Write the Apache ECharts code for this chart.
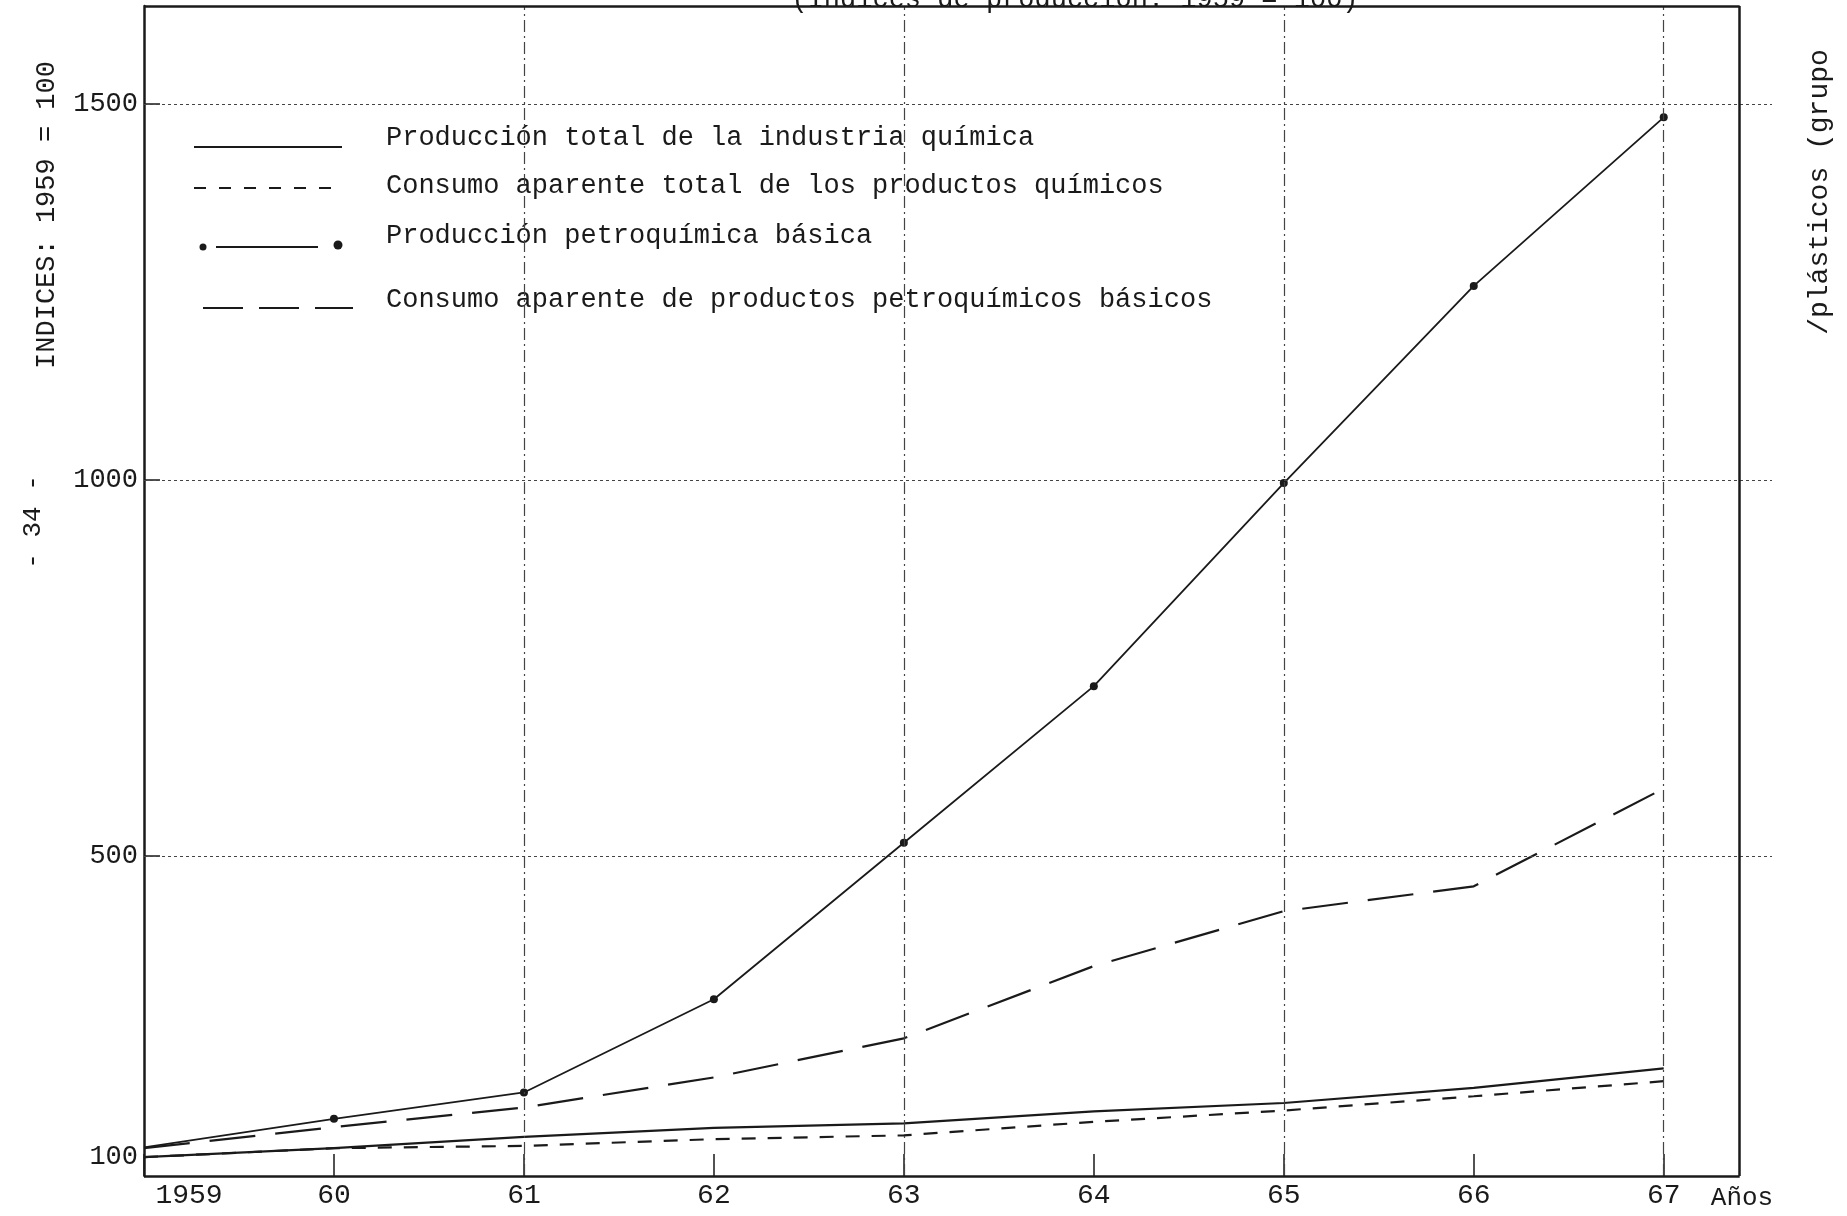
<!DOCTYPE html>
<html>
<head>
<meta charset="utf-8">
<script src="https://cdn.jsdelivr.net/npm/echarts@6/dist/echarts.min.js"></script>
<style>html,body{margin:0;padding:0;background:#fff}#c{width:1847px;height:1216px}</style>
</head>
<body>
<div id="c"></div>
<script>
const years = [1959, 1960, 1961, 1962, 1963, 1964, 1965, 1966, 1967];
const seriesNames = [
  'Producción total de la industria química',
  'Consumo aparente total de los productos químicos',
  'Producción petroquímica básica',
  'Consumo aparente de productos petroquímicos básicos'
];
const prodTotal = [100, 112, 127, 139, 145, 161, 172, 192, 218];
const consTotal = [100, 112, 115, 124, 129, 147, 162, 181, 201];
const prodPetro = [113, 151, 186, 310, 518, 726, 996, 1258, 1482];
const consPetro = [112, 140, 166, 206, 258, 354, 427, 460, 590];
const yLabelValues = [100, 500, 1000, 1500];
const yGridValues = [500, 1000, 1500];
const xGridYears = [1961, 1963, 1965, 1967];
const titleText = '(Indices de producción: 1959 = 100)';
const yName = 'INDICES: 1959 = 100';
const xName = 'Años';
const sideNote = '/plásticos (grupo';
const pageNo = '- 34 -';

const Y_MIN = 75, Y_MAX = 1630, X_MIN = 1959, X_END = 1967.4, X_MAX = 1967.57;
const FONT = '"Liberation Mono", "DejaVu Sans Mono", monospace';
const INK = '#1a1a1a';

const pairs = a => years.map((y, i) => [y, a[i]]);
const petroPoints = years.map((y, i) => (i === 0 ? {value: [y, prodPetro[i]], symbol: 'none'} : {value: [y, prodPetro[i]]}));

const gridLines = yGridValues.map(v => [{coord: [X_MIN, v]}, {coord: [X_MAX, v]}]);
const vLines = xGridYears.map(x => [{coord: [x, Y_MIN]}, {coord: [x, Y_MAX]}]);
const boxLines = [
  [{coord: [X_MIN, Y_MIN]}, {coord: [X_END, Y_MIN]}],
  [{coord: [X_END, Y_MIN]}, {coord: [X_END, Y_MAX]}],
  [{coord: [X_MIN, Y_MAX]}, {coord: [X_END, Y_MAX]}]
];
const ml = (data, style) => ({
  silent: true, symbol: ['none', 'none'], label: {show: false},
  lineStyle: style, emphasis: {disabled: true}, animation: false, data: data
});

const chart = echarts.init(document.getElementById('c'), null, {renderer: 'canvas'});
chart.setOption({
  animation: false,
  backgroundColor: '#ffffff',
  grid: {left: 144, top: 6, right: 75, bottom: 40, containLabel: false},
  xAxis: {
    type: 'value', min: X_MIN, max: X_MAX, interval: 1,
    axisLine: {show: false},
    splitLine: {show: false},
    axisTick: {show: true, inside: true, length: 22, customValues: years, lineStyle: {color: INK, width: 1.5}},
    axisLabel: {
      margin: 6, color: INK, fontFamily: FONT, fontSize: 28, customValues: years,
      formatter: v => (v === 1959 ? '{a|1959}' : String(v).slice(2)),
      rich: {a: {fontFamily: FONT, fontSize: 28, color: INK, padding: [0, 0, 0, 90]}}
    }
  },
  yAxis: {
    type: 'value', min: Y_MIN, max: Y_MAX,
    axisLine: {show: true, lineStyle: {color: INK, width: 2.5}},
    splitLine: {show: false},
    axisTick: {show: true, inside: true, length: 16, customValues: yGridValues, lineStyle: {color: INK, width: 1.5}},
    axisLabel: {margin: 6, color: INK, fontFamily: FONT, fontSize: 27, customValues: yLabelValues, formatter: v => String(v)}
  },
  series: [
    {
      name: 'frame', type: 'line', data: [], clip: false, silent: true,
      markLine: ml(gridLines, {color: '#444', width: 1.2, type: [3, 3]})
    },
    {
      name: 'frame2', type: 'line', data: [], clip: false, silent: true,
      markLine: ml(vLines, {color: '#444', width: 1.2, type: [12, 4, 2, 4]})
    },
    {
      name: 'frame3', type: 'line', data: [], clip: false, silent: true,
      markLine: ml(boxLines, {color: INK, width: 2.5, type: 'solid'})
    },
    {
      name: seriesNames[0], type: 'line', data: pairs(prodTotal), symbol: 'none',
      lineStyle: {color: INK, width: 2.2, type: 'solid'}
    },
    {
      name: seriesNames[1], type: 'line', data: pairs(consTotal), symbol: 'none',
      lineStyle: {color: INK, width: 2.2, type: [14, 12]}
    },
    {
      name: seriesNames[2], type: 'line', data: petroPoints, symbol: 'circle', symbolSize: 8,
      itemStyle: {color: INK},
      lineStyle: {color: INK, width: 1.8, type: 'solid'}
    },
    {
      name: seriesNames[3], type: 'line', data: pairs(consPetro), symbol: 'none',
      lineStyle: {color: INK, width: 2.2, type: [46, 20]}
    }
  ],
  graphic: [
    {type: 'text', x: 1075, y: -14, style: {text: titleText, font: '27px ' + FONT, fill: INK, align: 'center', verticalAlign: 'top'}},
    {type: 'text', x: 47, y: 215, rotation: Math.PI / 2, style: {text: yName, font: '27px ' + FONT, fill: INK, align: 'center', verticalAlign: 'middle'}},
    {type: 'text', x: 33, y: 522, rotation: Math.PI / 2, style: {text: pageNo, font: '26px ' + FONT, fill: INK, align: 'center', verticalAlign: 'middle'}},
    {type: 'text', x: 1820, y: 192, rotation: Math.PI / 2, style: {text: sideNote, font: '28px ' + FONT, fill: INK, align: 'center', verticalAlign: 'middle'}},
    {type: 'text', x: 1742, y: 1198, style: {text: xName, font: '26px ' + FONT, fill: INK, align: 'center', verticalAlign: 'middle'}},
    {type: 'line', shape: {x1: 194, y1: 147, x2: 342, y2: 147}, style: {stroke: INK, lineWidth: 2}},
    {type: 'text', x: 386, y: 138, style: {text: seriesNames[0], font: '27px ' + FONT, fill: INK, verticalAlign: 'middle'}},
    {type: 'line', shape: {x1: 194, y1: 188, x2: 342, y2: 188}, style: {stroke: INK, lineWidth: 2, lineDash: [12, 13]}},
    {type: 'text', x: 386, y: 186, style: {text: seriesNames[1], font: '27px ' + FONT, fill: INK, verticalAlign: 'middle'}},
    {type: 'circle', shape: {cx: 203, cy: 247, r: 3.5}, style: {fill: INK}},
    {type: 'line', shape: {x1: 216, y1: 247, x2: 318, y2: 247}, style: {stroke: INK, lineWidth: 2}},
    {type: 'circle', shape: {cx: 338, cy: 245, r: 4.5}, style: {fill: INK}},
    {type: 'text', x: 386, y: 236, style: {text: seriesNames[2], font: '27px ' + FONT, fill: INK, verticalAlign: 'middle'}},
    {type: 'line', shape: {x1: 203, y1: 308, x2: 353, y2: 308}, style: {stroke: INK, lineWidth: 2, lineDash: [40, 16]}},
    {type: 'text', x: 386, y: 300, style: {text: seriesNames[3], font: '27px ' + FONT, fill: INK, verticalAlign: 'middle'}}
  ]
});
</script>
</body>
</html>
